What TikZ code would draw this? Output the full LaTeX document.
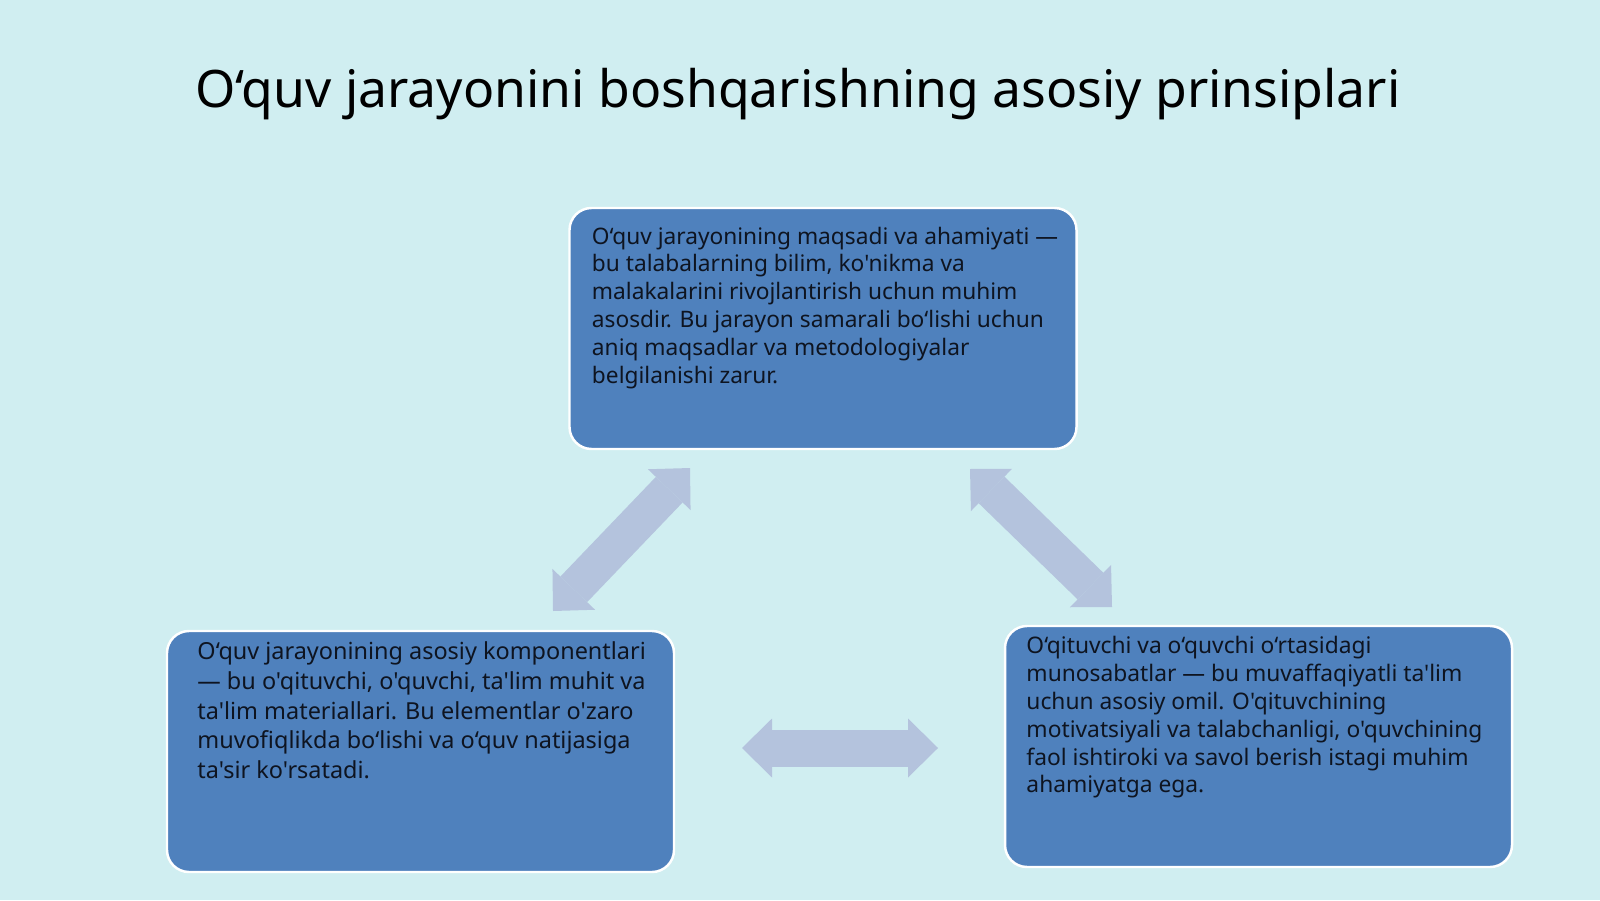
\documentclass[tikz,border=0pt]{standalone}
\usepackage{fontspec}
\setmainfont{Noto Sans}[Ligatures=TeXOff]
\usepackage{xcolor}
\usetikzlibrary{arrows.meta,positioning}
\definecolor{bgcol}{HTML}{D0EEF1}
\definecolor{boxcol}{HTML}{4F81BD}
\definecolor{arrcol}{HTML}{B4C3DD}
\definecolor{txtcol}{HTML}{0E1420}

\begin{document}
\begin{tikzpicture}[
    box/.style={draw=white, line width=0.7pt, fill=boxcol, rounded corners=0.22cm,
      minimum width=5.07cm, minimum height=2.41cm, inner sep=0pt},
    txt/.style={anchor=north west, inner sep=0pt, align=left, text=txtcol,
      font=\fontsize{6.46}{7.9}\selectfont},
    dblarr/.style={draw=arrcol, line width=0.37cm,
      {Triangle[width=0.59cm,length=0.3cm,line width=0pt]}-{Triangle[width=0.59cm,length=0.3cm,line width=0pt]}}
  ]
  \fill[bgcol] (0,0) rectangle (16,9);
  \useasboundingbox (0,0) rectangle (16,9);

  \node[font=\fontsize{14.7}{17}\selectfont, text=black] (title) at (7.98,8.06)
    {O‘quv jarayonini boshqarishning asosiy prinsiplari};

  \node[box] (maqsad) at (8.23,5.715) {};
  \node[box] (komponent) at (4.205,1.485) {};
  \node[box] (munosabat) at (12.585,1.535) {};

  \node[txt] (maqsadtxt) at ([shift={(0.23,-0.195)}]maqsad.north west)
    {O‘quv jarayonining maqsadi va ahamiyati —\\
     bu talabalarning bilim, ko'nikma va\\
     malakalarini rivojlantirish uchun muhim\\
     asosdir. Bu jarayon samarali bo‘lishi uchun\\
     aniq maqsadlar va metodologiyalar\\
     belgilanishi zarur.};
  \node[txt, font=\fontsize{6.67}{8.45}\selectfont] (komponenttxt) at ([shift={(0.31,-0.115)}]komponent.north west)
    {O‘quv jarayonining asosiy komponentlari\\
     — bu o'qituvchi, o'quvchi, ta'lim muhit va\\
     ta'lim materiallari. Bu elementlar o'zaro\\
     muvofiqlikda bo‘lishi va o‘quv natijasiga\\
     ta'sir ko'rsatadi.};
  \node[txt, font=\fontsize{6.48}{7.95}\selectfont] (munosabattxt) at ([shift={(0.22,-0.105)}]munosabat.north west)
    {O‘qituvchi va o‘quvchi o‘rtasidagi\\
     munosabatlar — bu muvaffaqiyatli ta'lim\\
     uchun asosiy omil. O'qituvchining\\
     motivatsiyali va talabchanligi, o'quvchining\\
     faol ishtiroki va savol berish istagi muhim\\
     ahamiyatga ega.};

  \coordinate (a1) at (6.90,4.32);
  \coordinate (a2) at (5.53,2.89);
  \coordinate (b1) at (9.70,4.31);
  \coordinate (b2) at (11.12,2.93);
  \coordinate (c1) at (7.42,1.52);
  \coordinate (c2) at (9.38,1.52);
  \draw[dblarr] (a2) -- (a1);
  \draw[dblarr] (b1) -- (b2);
  \draw[dblarr] (c1) -- (c2);
\end{tikzpicture}
\end{document}
